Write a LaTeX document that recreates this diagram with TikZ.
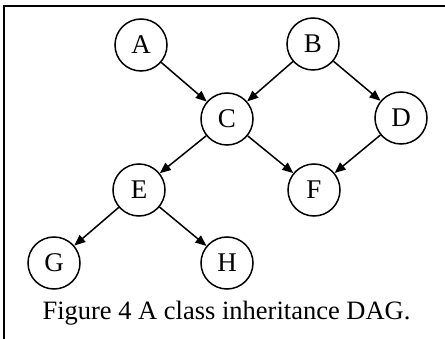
\documentclass[tikz,border=0pt]{standalone}
\usepackage{fontspec}
\setmainfont{Liberation Serif}
\usetikzlibrary{arrows.meta}
\begin{document}
\begin{tikzpicture}[x=1pt,y=-1pt,
  vtx/.style={circle,draw,line width=1.5pt,minimum size=52pt,inner sep=0pt,font=\fontsize{27}{27}\selectfont},
  edge/.style={line width=1.5pt,-{Triangle[length=11pt,width=9pt]}},
  frameline/.style={line width=1.2pt},
  captext/.style={anchor=base,font=\fontsize{26.5}{26.5}\selectfont}]
\useasboundingbox (0,0) rectangle (445,339);
\draw[frameline] (4,339) -- (4,6) -- (445,6);
\node[vtx] (A) at (141,45) {A};
\node[vtx] (B) at (313,44) {B};
\node[vtx] (C) at (227,119) {C};
\node[vtx] (D) at (401,118) {D};
\node[vtx] (E) at (139,190) {E};
\node[vtx] (F) at (314,190) {F};
\node[vtx] (G) at (54,263) {G};
\node[vtx] (H) at (227,263) {H};
\draw[edge] (A) -- (C);
\draw[edge] (B) -- (C);
\draw[edge] (B) -- (D);
\draw[edge] (C) -- (E);
\draw[edge] (C) -- (F);
\draw[edge] (D) -- (F);
\draw[edge] (E) -- (G);
\draw[edge] (E) -- (H);
\node[captext] (cap) at (226.5,320) {Figure 4 A class inheritance DAG.};
\end{tikzpicture}
\end{document}
